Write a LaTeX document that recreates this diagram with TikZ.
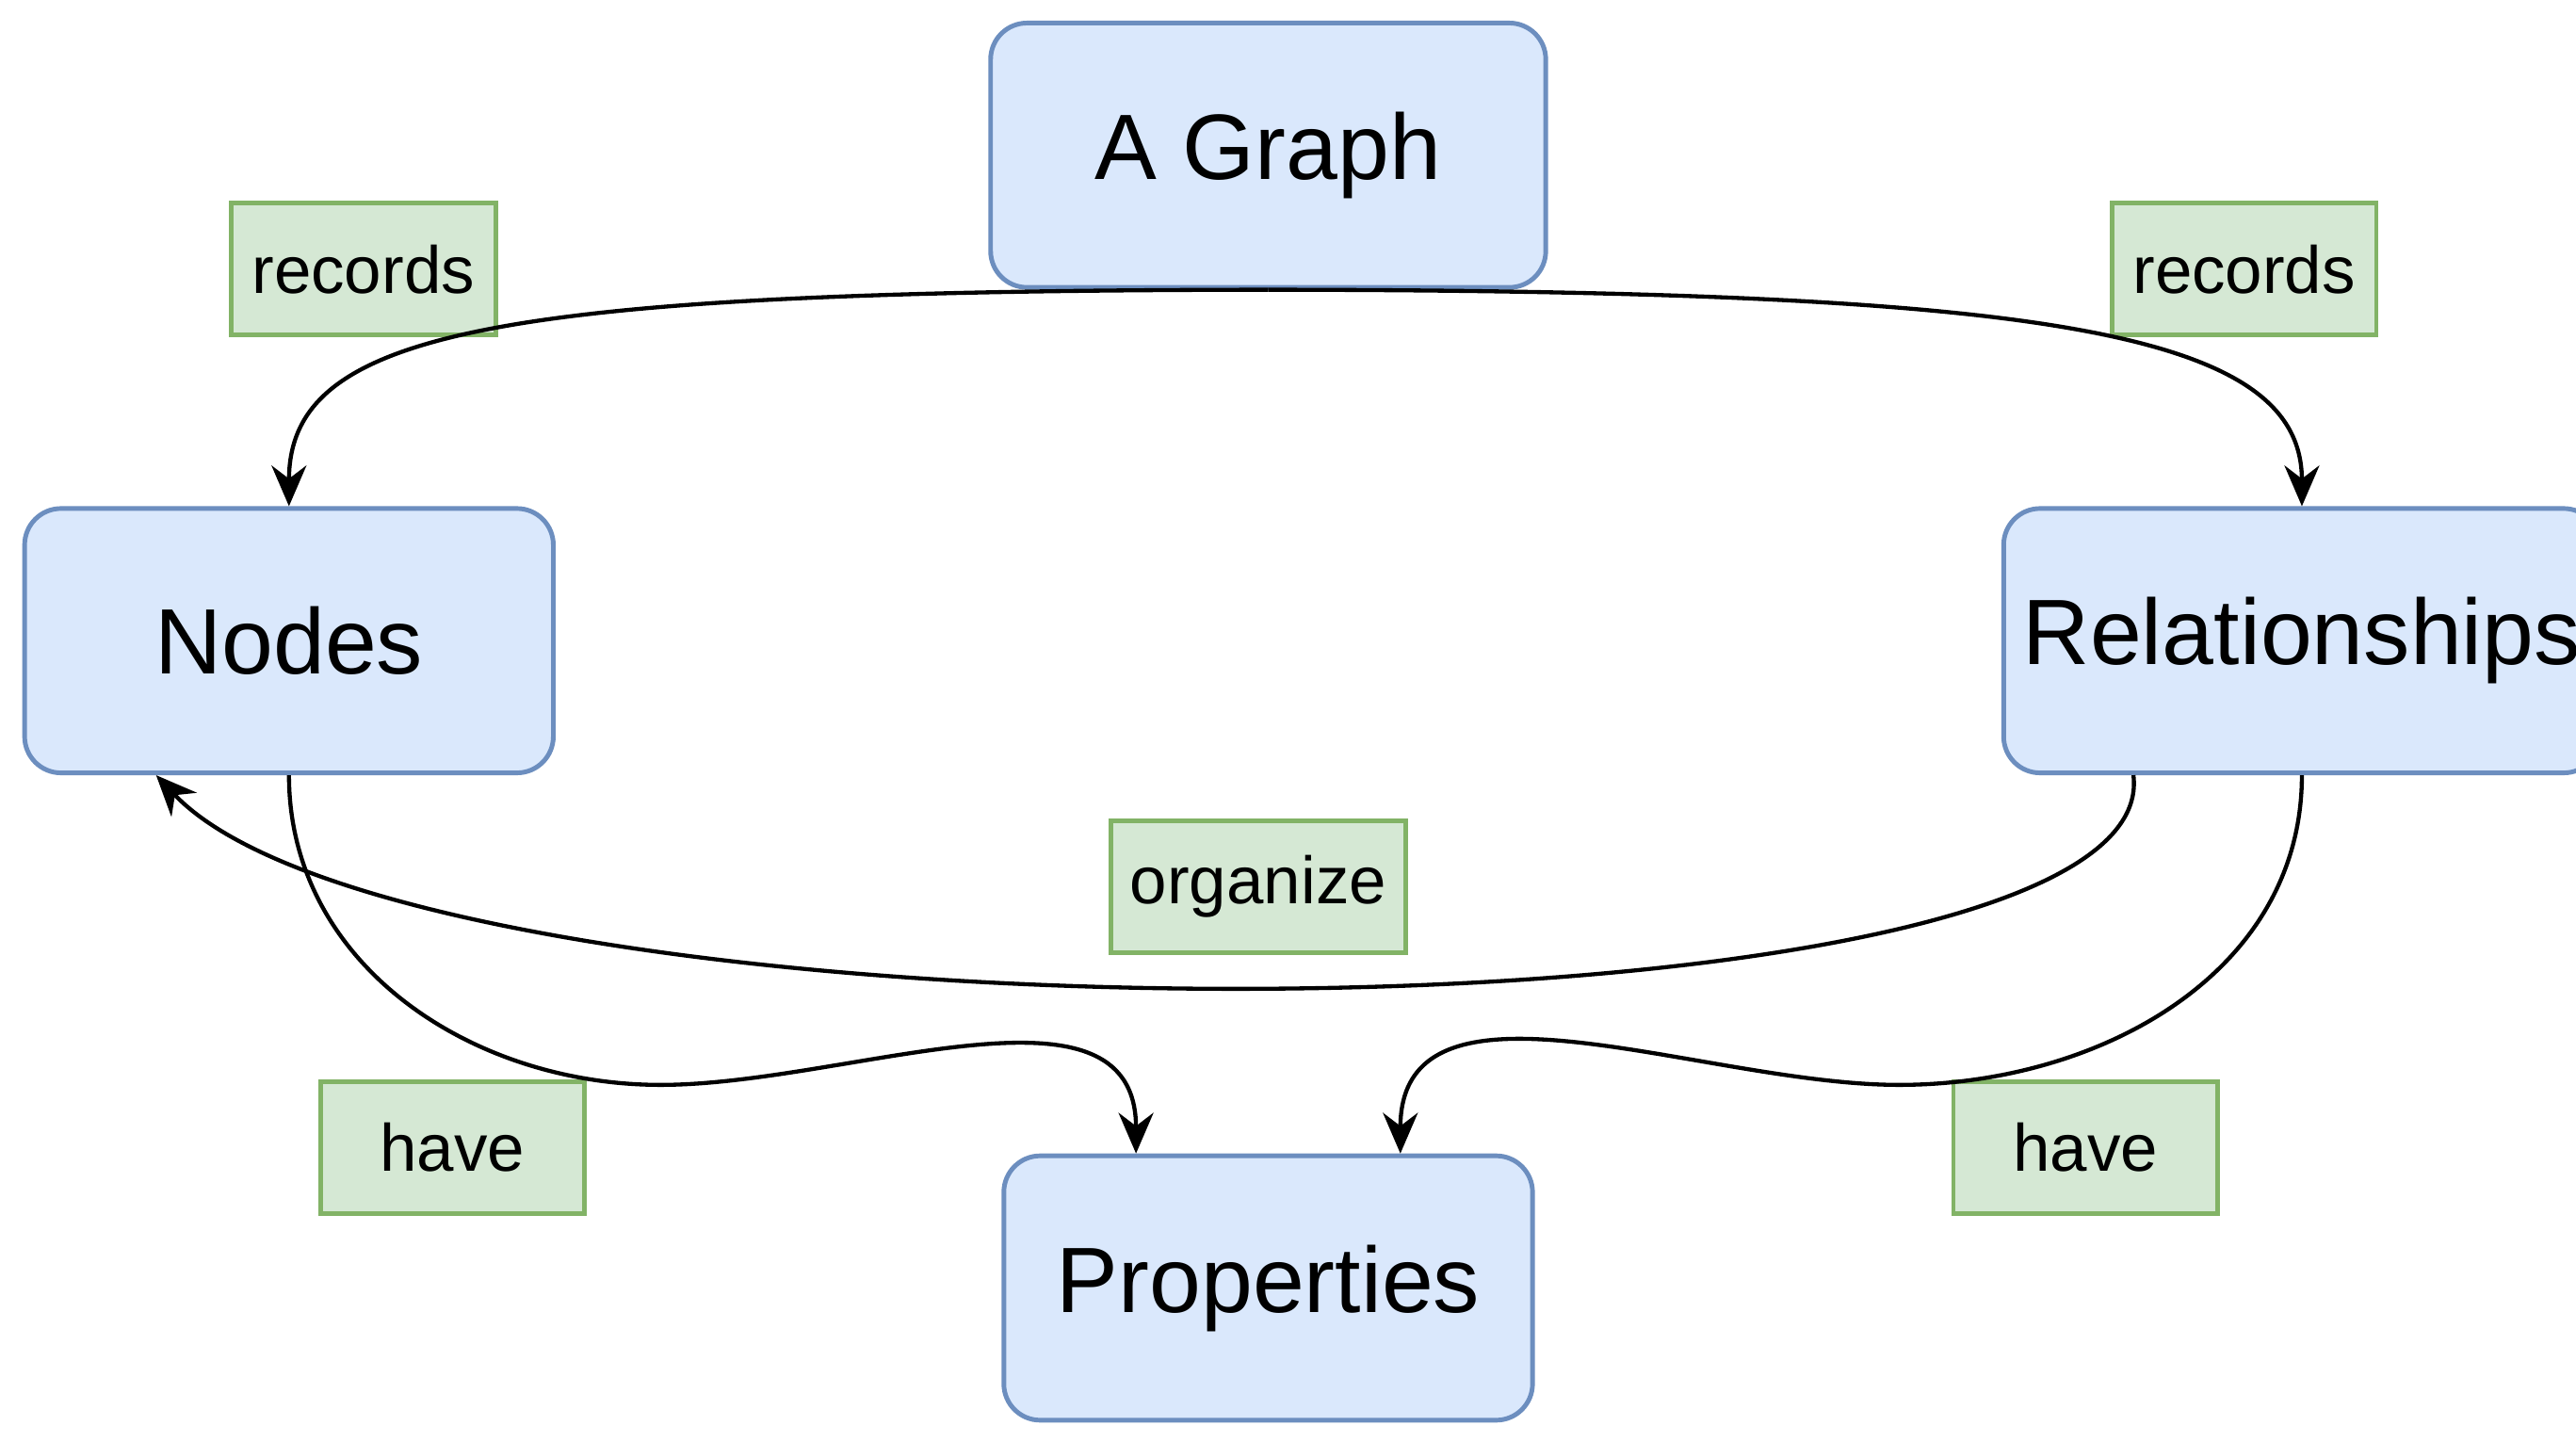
\documentclass[tikz,border=0pt]{standalone}
\usepackage{fontspec}
\setmainfont{Liberation Sans}
\usetikzlibrary{arrows.meta}
\definecolor{boxfill}{HTML}{DAE8FC}
\definecolor{boxdraw}{HTML}{6C8EBF}
\definecolor{tagfill}{HTML}{D5E8D4}
\definecolor{tagdraw}{HTML}{82B366}
\begin{document}
\begin{tikzpicture}
		[   x=0.01cm,y=-0.01cm,
		    box/.style={draw=boxdraw,fill=boxfill,line width=0.8pt,rounded corners=0.22cm,minimum width=3.2cm,minimum height=1.6cm,font=\fontsize{16}{19}\selectfont},
		    tag/.style={draw=tagdraw,fill=tagfill,line width=0.8pt,minimum width=1.6cm,minimum height=0.8cm,font=\fontsize{11.5}{14}\selectfont},
		]
		\tikzset{normal arrow/.style={draw,line width=0.7pt,-{Stealth[length=7pt,width=6pt]}}}
		\useasboundingbox (0,0) rectangle (1560,873);
		
		\node[box,minimum width=3.36cm] (graph) at (768,94) {A Graph};
		\node[box] (nodes) at (175,388) {Nodes};
		\node[box,minimum width=3.22cm] (rel) at (1394,388) {Relationships};
		\node[box] (prop) at (768,780) {Properties};
		
		\node[tag] (rec-1) at (220,163) {records};
		\node[tag] (rec-2) at (1359,163) {records};
		\node[tag] (org) at (762,537) {organize};
		\node[tag] (have-1) at (274,695) {have};
		\node[tag] (have-2) at (1263,695) {have};
		
		\path[normal arrow] (graph.south) .. controls (300,176) and (175,200) .. (nodes.north);
		\path[normal arrow] (graph.south) .. controls (1236,176) and (1394,200) .. (rel.north);
		\path[normal arrow] (rel.south west) ++(80,0) .. controls (1313,640) and (256,640) .. ([xshift=0.81cm]nodes.south west);
		\path[normal arrow] (nodes.south) to[out=-90,in=180] (400,657) to[out=0,in=90] ([xshift=-0.8cm]prop.north);
		\path[normal arrow] (rel.south) to[out=-90,in=0] (1150,657) to[out=180,in=90] ([xshift=0.8cm]prop.north);
\end{tikzpicture}
\end{document}
